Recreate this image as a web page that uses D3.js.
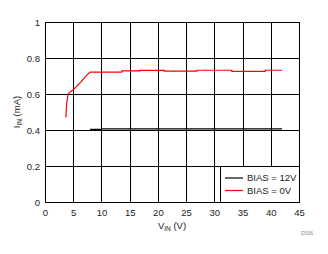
<!DOCTYPE html>
<html>
<head>
<meta charset="utf-8">
<script src="https://cdn.jsdelivr.net/npm/d3@7"></script>
<style>
  body { margin: 0; background: #fff; }
  text { font-family: "Liberation Sans", Arial, sans-serif; fill: #222; }
</style>
</head>
<body>
<div id="chart"></div>
<script>
// data
var xTicks = [0, 5, 10, 15, 20, 25, 30, 35, 40, 45];
var yTicks = [0, 0.2, 0.4, 0.6, 0.8, 1];
var seriesNames = ["BIAS = 12V", "BIAS = 0V"];
var seriesColors = ["#000000", "#ff0000"];
var bias12V = [[8, 0.404], [10, 0.404], [10.1, 0.406], [42, 0.406]];
var bias0V = [
  [3.7, 0.47], [3.85, 0.55], [4.1, 0.60], [4.5, 0.613], [5.0, 0.624],
  [5.6, 0.642], [6.3, 0.665], [7.1, 0.695], [8.0, 0.722], [13.6, 0.721],
  [13.6, 0.728], [16.8, 0.728], [16.8, 0.731], [21.1, 0.731], [21.1, 0.727],
  [26.9, 0.727], [26.9, 0.732], [33.1, 0.732], [33.1, 0.726], [39, 0.726],
  [39, 0.732], [42, 0.732]
];

var dim = { width: 328, height: 254, margin: { top: 22, right: 29, bottom: 52, left: 45 } };
dim.plot = {
  width: dim.width - dim.margin.left - dim.margin.right,
  height: dim.height - dim.margin.top - dim.margin.bottom
};

var x = d3.scaleLinear().domain([0, 45]).range([0, dim.plot.width]);
var y = d3.scaleLinear().domain([0, 1]).range([dim.plot.height, 0]);

var svg = d3.select("#chart").append("svg")
    .attr("width", dim.width)
    .attr("height", dim.height);
var g = svg.append("g")
    .attr("transform", "translate(" + dim.margin.left + "," + dim.margin.top + ")");

// grid
g.append("g").selectAll("line").data(xTicks).enter().append("line")
    .attr("x1", function(d) { return Math.round(x(d)) + 0.5; })
    .attr("x2", function(d) { return Math.round(x(d)) + 0.5; })
    .attr("y1", 0).attr("y2", dim.plot.height)
    .attr("stroke", "#000").attr("stroke-width", 1);
g.append("g").selectAll("line").data(yTicks).enter().append("line")
    .attr("y1", function(d) { return Math.round(y(d)) + 0.5; })
    .attr("y2", function(d) { return Math.round(y(d)) + 0.5; })
    .attr("x1", 0).attr("x2", dim.plot.width)
    .attr("stroke", "#000").attr("stroke-width", 1);

// axes (labels only)
var xAxis = d3.axisBottom(x).tickValues(xTicks).tickSize(0).tickPadding(7).tickFormat(d3.format("d"));
var yAxis = d3.axisLeft(y).tickValues(yTicks).tickSize(0).tickPadding(5).tickFormat(function(d) { return d === 0 || d === 1 ? d : d3.format(".1f")(d); });
g.append("g").attr("transform", "translate(0," + dim.plot.height + ")").call(xAxis)
    .call(function(s) { s.select(".domain").remove(); })
    .selectAll("text").style("font-size", "9.5px");
g.append("g").call(yAxis)
    .call(function(s) { s.select(".domain").remove(); })
    .selectAll("text").style("font-size", "9.5px");

// series
var line = d3.line().x(function(d) { return x(d[0]); }).y(function(d) { return y(d[1]); });
g.append("path").datum(bias12V).attr("d", line)
    .attr("fill", "none").attr("stroke", seriesColors[0]).attr("stroke-width", 1.2);
g.append("path").datum(bias0V).attr("d", line)
    .attr("fill", "none").attr("stroke", seriesColors[1]).attr("stroke-width", 1.2);

// legend
var lg = g.append("g").attr("transform", "translate(" + (dim.plot.width - 79) + "," + (dim.plot.height - 36) + ")");
lg.append("rect").attr("x", 0.5).attr("y", 0.5).attr("width", 79).attr("height", 36)
    .attr("fill", "#fff").attr("stroke", "#000").attr("stroke-width", 1);
seriesNames.forEach(function(name, i) {
  var yy = 12 + i * 12.5;
  lg.append("line").attr("x1", 5).attr("x2", 23).attr("y1", yy).attr("y2", yy)
      .attr("stroke", seriesColors[i]).attr("stroke-width", 1.2);
  lg.append("text").attr("x", 27).attr("y", yy).attr("dy", "0.35em")
      .style("font-size", "9.5px").text(name);
});

// axis titles
var yt = svg.append("text")
    .attr("transform", "translate(17," + (dim.margin.top + dim.plot.height / 2) + ") rotate(-90)")
    .attr("text-anchor", "middle").attr("dy", "0.35em").style("font-size", "9.5px");
yt.append("tspan").text("I");
yt.append("tspan").attr("dy", "2").style("font-size", "6.5px").text("IN");
yt.append("tspan").attr("dy", "-2").text(" (mA)");

var xt = svg.append("text")
    .attr("x", dim.margin.left + dim.plot.width / 2).attr("y", 229)
    .attr("text-anchor", "middle").style("font-size", "9.5px");
xt.append("tspan").text("V");
xt.append("tspan").attr("dy", "2").style("font-size", "6.5px").text("IN");
xt.append("tspan").attr("dy", "-2").text(" (V)");

svg.append("text").attr("x", 307).attr("y", 235).attr("text-anchor", "middle")
    .style("font-size", "5px").style("fill", "#888").text("D006");
</script>
</body>
</html>
